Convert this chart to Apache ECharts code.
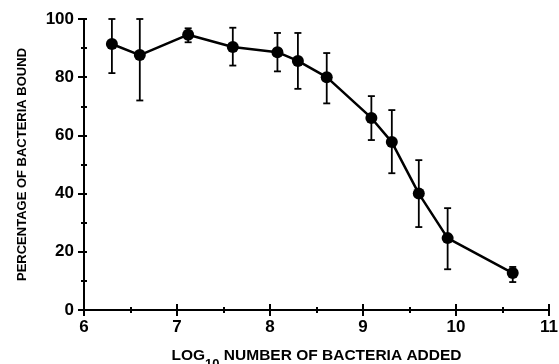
<!DOCTYPE html>
<html><head><meta charset="utf-8">
<script src="https://cdn.jsdelivr.net/npm/echarts@6/dist/echarts.min.js"></script>
<style>html,body{margin:0;padding:0;background:#fff}#c{width:559px;height:364px}</style>
</head><body><div id="c"></div>
<script>
// Data
var logBacteria = [6.3, 6.6, 7.12, 7.6, 8.08, 8.3, 8.61, 9.09, 9.31, 9.6, 9.91, 10.61];
var pctBound    = [91.4, 87.6, 94.6, 90.4, 88.6, 85.6, 80.0, 66.0, 57.7, 40.0, 24.7, 12.7];
var errLow      = [81.4, 72.0, 92.0, 84.0, 82.0, 76.0, 71.0, 58.4, 47.0, 28.5, 14.0, 9.6];
var errHigh     = [100, 100, 96.8, 97.0, 95.2, 95.2, 88.3, 73.5, 68.7, 51.5, 35.0, 14.8];
var xTicks = [6, 7, 8, 9, 10, 11];
var yTicks = [0, 20, 40, 60, 80, 100];

var lineData = logBacteria.map(function(x, i){ return [x, pctBound[i]]; });
var errData = logBacteria.map(function(x, i){ return [x, errLow[i], errHigh[i]]; });

var chart = echarts.init(document.getElementById('c'), null, {renderer: 'canvas'});
var font = '"Liberation Sans", Arial, sans-serif';
var axisBase = {
  axisLine: {lineStyle: {color: '#000', width: 2}},
  splitLine: {show: false}
};
chart.setOption({
  backgroundColor: '#fff',
  animation: false,
  grid: {left: 84, right: 10, top: 19, bottom: 54, containLabel: false, outerBoundsMode: 'none'},
  xAxis: [
    Object.assign({}, axisBase, {
      type: 'value', min: xTicks[0], max: xTicks[xTicks.length-1], interval: 1,
      axisTick: {show: true, inside: false, length: 6, lineStyle: {color: '#000', width: 2}},
      minorTick: {show: true, splitNumber: 2, length: 3, lineStyle: {color: '#000', width: 2}},
      axisLabel: {color: '#000', fontFamily: font, fontWeight: 'bold', fontSize: 17, margin: 9},
      name: '{a|LOG}{s|10}{a| NUMBER OF BACTERIA ADDED}',
      nameLocation: 'middle', nameGap: 36,
      nameTextStyle: {
        rich: {
          a: {fontFamily: font, fontWeight: 'bold', fontSize: 15.5, color: '#000', verticalAlign: 'bottom', lineHeight: 18},
          s: {fontFamily: font, fontWeight: 'bold', fontSize: 13, color: '#000', verticalAlign: 'bottom', lineHeight: 18, padding: [0, 0, -7, 0]}
        }
      }
    }),
    Object.assign({}, axisBase, {
      type: 'value', min: xTicks[0], max: xTicks[xTicks.length-1], interval: 1, position: 'bottom',
      axisTick: {show: true, inside: true, length: 6, lineStyle: {color: '#000', width: 2}},
      minorTick: {show: true, splitNumber: 2, length: 3, lineStyle: {color: '#000', width: 2}},
      axisLabel: {show: false}
    })
  ],
  yAxis: [
    Object.assign({}, axisBase, {
      type: 'value', min: yTicks[0], max: yTicks[yTicks.length-1], interval: 20,
      axisTick: {show: true, inside: false, length: 6, lineStyle: {color: '#000', width: 2}},
      minorTick: {show: true, splitNumber: 2, length: 3, lineStyle: {color: '#000', width: 2}},
      axisLabel: {color: '#000', fontFamily: font, fontWeight: 'bold', fontSize: 17, margin: 10},
      name: 'PERCENTAGE OF BACTERIA BOUND',
      nameLocation: 'middle', nameGap: 55,
      nameTextStyle: {fontFamily: font, fontWeight: 'bold', fontSize: 13, color: '#000'}
    }),
    Object.assign({}, axisBase, {
      type: 'value', min: yTicks[0], max: yTicks[yTicks.length-1], interval: 20, position: 'left',
      axisTick: {show: true, inside: true, length: 3, lineStyle: {color: '#000', width: 2}},
      minorTick: {show: true, splitNumber: 2, length: 3, lineStyle: {color: '#000', width: 2}},
      axisLabel: {show: false}
    })
  ],
  series: [
    {
      type: 'custom',
      xAxisIndex: 0, yAxisIndex: 0,
      data: errData,
      z: 3,
      renderItem: function(params, api){
        var x = api.value(0);
        var lo = api.coord([x, api.value(1)]);
        var hi = api.coord([x, api.value(2)]);
        var hw = 3.5;
        var st = {stroke: '#000', lineWidth: 1.8};
        return {type: 'group', children: [
          {type: 'line', shape: {x1: lo[0], y1: lo[1], x2: hi[0], y2: hi[1]}, style: st},
          {type: 'line', shape: {x1: lo[0]-hw, y1: lo[1], x2: lo[0]+hw, y2: lo[1]}, style: st},
          {type: 'line', shape: {x1: hi[0]-hw, y1: hi[1], x2: hi[0]+hw, y2: hi[1]}, style: st}
        ]};
      }
    },
    {
      type: 'line',
      xAxisIndex: 0, yAxisIndex: 0,
      data: lineData,
      symbol: 'circle', symbolSize: 12,
      lineStyle: {color: '#000', width: 2.5},
      itemStyle: {color: '#000'},
      z: 4
    }
  ]
});
</script></body></html>
